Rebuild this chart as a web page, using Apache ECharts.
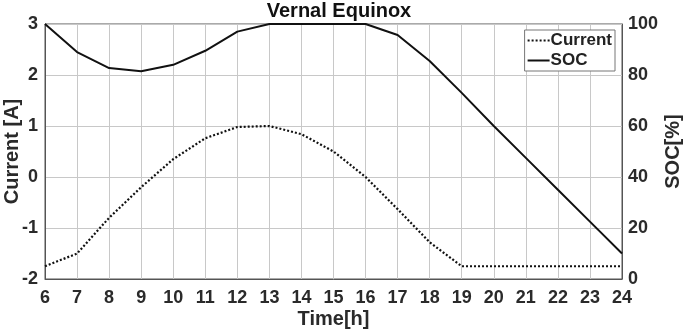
<!DOCTYPE html>
<html>
<head>
<meta charset="utf-8">
<script src="https://cdn.jsdelivr.net/npm/echarts@6/dist/echarts.min.js"></script>
<style>
html, body { margin: 0; padding: 0; background: #fff; }
#main { width: 685px; height: 332px; }
</style>
</head>
<body>
<div id="main"></div>
<script>
// hours of the day
var hours = [6, 7, 8, 9, 10, 11, 12, 13, 14, 15, 16, 17, 18, 19, 20, 21, 22, 23, 24]
// battery current [A]
var current = [-1.75, -1.5, -0.8, -0.2, 0.35, 0.76, 0.98, 1.0, 0.84, 0.5, 0.0, -0.63, -1.28, -1.75, -1.75, -1.75, -1.75, -1.75, -1.75]
// state of charge [%]
var soc = [100, 89, 82.7, 81.5, 84, 89.5, 97, 100, 100, 100, 100, 95.7, 85.5, 73, 60, 47.5, 35, 22.5, 10]

var font = 'Liberation Sans'
var tickText = { fontFamily: font, fontSize: 18, fontWeight: 'bold', color: '#2a2a2a' }
var nameText = { fontFamily: font, fontSize: 20, fontWeight: 'bold', color: '#2a2a2a' }

var chart = echarts.init(document.getElementById('main'))
chart.setOption({
  animation: false,
  title: {
    text: 'Vernal Equinox',
    left: 334,
    top: -4,
    textAlign: 'center',
    textStyle: { fontFamily: font, fontSize: 20, fontWeight: 'bold', color: '#111' }
  },
  legend: {
    right: 70,
    top: 30,
    orient: 'vertical',
    itemWidth: 22,
    itemHeight: 10,
    itemGap: 3,
    padding: [2, 3, 2, 2],
    borderColor: '#777',
    borderWidth: 1,
    backgroundColor: '#fff',
    itemStyle: { opacity: 0 },
    textStyle: { fontFamily: font, fontSize: 17, fontWeight: 'bold', color: '#222', padding: [0, 0, 0, -4] },
    data: ['Current', 'SOC']
  },
  grid: {
    left: 45, right: 63, top: 24, bottom: 53,
    outerBoundsMode: 'none',
    containLabel: false,
    show: true, borderColor: '#555', borderWidth: 1
  },
  xAxis: {
    type: 'value',
    min: 6, max: 24, interval: 1,
    name: 'Time[h]',
    nameLocation: 'middle',
    nameGap: 30,
    nameMoveOverlap: false,
    nameTextStyle: nameText,
    axisLine: { onZero: false, lineStyle: { color: '#555' } },
    axisTick: { show: false },
    axisLabel: Object.assign({ margin: 10 }, tickText),
    splitLine: { show: true, lineStyle: { color: '#c8c8c8' } }
  },
  yAxis: [{
    type: 'value',
    min: -2, max: 3, interval: 1,
    name: 'Current [A]',
    nameLocation: 'middle',
    nameGap: 23,
    nameMoveOverlap: false,
    nameTextStyle: nameText,
    axisLine: { show: true, lineStyle: { color: '#555' } },
    axisTick: { show: false },
    axisLabel: Object.assign({ margin: 7 }, tickText),
    splitLine: { show: true, lineStyle: { color: '#c8c8c8' } }
  }, {
    type: 'value',
    min: 0, max: 100, interval: 20,
    name: 'SOC[%]',
    nameLocation: 'middle',
    nameGap: 41,
    nameRotate: 90,
    nameMoveOverlap: false,
    nameTextStyle: nameText,
    axisLine: { show: true, lineStyle: { color: '#555' } },
    axisTick: { show: false },
    axisLabel: Object.assign({ margin: 6 }, tickText),
    splitLine: { show: false }
  }],
  series: [{
    name: 'Current',
    type: 'line',
    yAxisIndex: 0,
    symbol: 'none',
    data: hours.map(function (h, i) { return [h, current[i]] }),
    lineStyle: { color: '#111', width: 2.2, type: [2, 2] },
    itemStyle: { color: '#111' }
  }, {
    name: 'SOC',
    type: 'line',
    yAxisIndex: 1,
    symbol: 'none',
    data: hours.map(function (h, i) { return [h, soc[i]] }),
    lineStyle: { color: '#111', width: 2 },
    itemStyle: { color: '#111' }
  }]
})
</script>
</body>
</html>
